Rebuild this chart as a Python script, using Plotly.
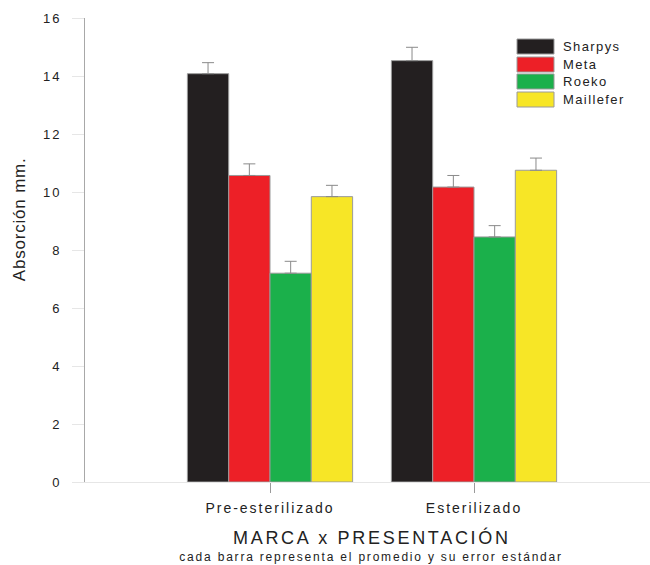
import json
import plotly.graph_objects as go

categories = ["Pre-esterilizado", "Esterilizado"]
series = ["Sharpys", "Meta", "Roeko", "Maillefer"]
means = {
    "Sharpys":   [14.08, 14.53],
    "Meta":      [10.57, 10.17],
    "Roeko":     [7.20, 8.45],
    "Maillefer": [9.84, 10.75],
}
errors = {
    "Sharpys":   [0.38, 0.46],
    "Meta":      [0.40, 0.40],
    "Roeko":     [0.41, 0.39],
    "Maillefer": [0.39, 0.42],
}
colors = ["#231f20", "#ed2027", "#1bb04b", "#f7e626"]
y_ticks = [0, 2, 4, 6, 8, 10, 12, 14, 16]

FONT = "Liberation Sans, Arial, sans-serif"
W, H = 650, 565
ML, MR, MT, MB = 85, 0, 18, 83
PW, PH = W - ML - MR, H - MT - MB

def px_to_paper_y(py):
    return (H - MB - py) / PH

def px_to_paper_x(px):
    return (px - ML) / PW

fig = go.Figure()
xpos = list(range(len(categories)))
for name, col in zip(series, colors):
    fig.add_trace(go.Bar(
        x=xpos, y=means[name], name=name,
        marker=dict(color=col, line=dict(color="#9a9a9a", width=1)),
        error_y=dict(type="data", array=errors[name], symmetric=False,
                     arrayminus=[0] * len(categories),
                     color="#8a8a8a", thickness=1, width=6),
        showlegend=False,
    ))

# custom legend swatches
box_tops = [39, 57, 74, 92]
shapes = []
annotations = []
spacing = []
for i, (name, col) in enumerate(zip(series, colors)):
    top = box_tops[i]
    bot = top + 15
    shapes.append(dict(type="rect", xref="paper", yref="paper",
                       x0=px_to_paper_x(517), x1=px_to_paper_x(554),
                       y0=px_to_paper_y(bot), y1=px_to_paper_y(top),
                       fillcolor=col, line=dict(color="#9a9a9a", width=1)))
    annotations.append(dict(xref="paper", yref="paper",
                            x=px_to_paper_x(561), y=px_to_paper_y((top + bot) / 2),
                            xanchor="left", yanchor="middle", align="left", showarrow=False,
                            text=name, font=dict(family=FONT, size=13, color="#222")))
    spacing.append(1.4)

annotations.append(dict(xref="paper", yref="paper", x=px_to_paper_x(20), y=px_to_paper_y(220),
                        xanchor="center", yanchor="middle", showarrow=False, textangle=-90,
                        text="Absorción mm.", font=dict(family=FONT, size=17, color="#222")))
spacing.append(0.8)
annotations.append(dict(xref="paper", yref="paper", x=px_to_paper_x(372), y=px_to_paper_y(537),
                        xanchor="center", yanchor="middle", showarrow=False,
                        text="MARCA x PRESENTACIÓN", font=dict(family=FONT, size=18, color="#222")))
spacing.append(2.7)
annotations.append(dict(xref="paper", yref="paper", x=px_to_paper_x(371), y=px_to_paper_y(557),
                        xanchor="center", yanchor="middle", showarrow=False,
                        text="cada barra representa el promedio y su error estándar",
                        font=dict(family=FONT, size=12, color="#222")))
spacing.append(1.8)

fig.update_layout(
    width=W, height=H,
    margin=dict(l=ML, r=MR, t=MT, b=MB, pad=0),
    paper_bgcolor="white", plot_bgcolor="white",
    barmode="group", bargap=0.19, bargroupgap=0,
    shapes=shapes, annotations=annotations,
    xaxis=dict(range=[-185 / 204, 1 + 176 / 204], tickmode="array", tickvals=xpos,
               ticktext=categories, ticks="outside", ticklen=10, tickcolor="#9a9a9a",
               showline=True, linecolor="#e6e6e6", linewidth=1, showgrid=False, zeroline=False,
               ticklabelstandoff=3,
               tickfont=dict(family=FONT, size=14, color="#222")),
    yaxis=dict(range=[0, 16], tickmode="array", tickvals=y_ticks, ticks="outside",
               ticklen=12, tickcolor="#e6e6e6", showline=True, linecolor="#a8a8a8",
               linewidth=1, showgrid=False, zeroline=False, ticklabelstandoff=8,
               tickfont=dict(family=FONT, size=13, color="#222")),
)

post = """
var gd = document.getElementById('{plot_id}');
var sp = %s;
function apply(){
  gd.querySelectorAll('.xtick text').forEach(function(t){ t.style.letterSpacing = '2px'; });
  gd.querySelectorAll('.ytick text').forEach(function(t){ t.style.letterSpacing = '2px'; });
  gd.querySelectorAll('g.annotation').forEach(function(g){
    var k = parseInt(g.getAttribute('data-index'));
    if (!isNaN(k) && sp[k] !== undefined) {
      g.querySelectorAll('text').forEach(function(t){ t.style.letterSpacing = sp[k] + 'px'; });
    }
  });
}
apply();
gd.on('plotly_afterplot', apply);
""" % json.dumps(spacing)

fig.write_html("out.html", post_script=post)
